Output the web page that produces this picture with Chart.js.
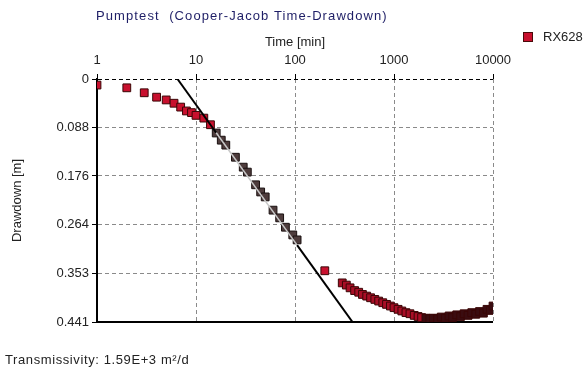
<!DOCTYPE html>
<html>
<head>
<meta charset="utf-8">
<script src="https://cdn.jsdelivr.net/npm/chart.js@4.4.1/dist/chart.umd.min.js"></script>
<style>
    body { margin: 0; background: #fff; font-family: "Liberation Sans", Arial, sans-serif; }
    #wrap { position: relative; width: 588px; height: 373px; overflow: hidden; }
    #chart { position: absolute; left: 0; top: 0; }
    .txt { position: absolute; white-space: nowrap; font-size: 13px; color: #222; line-height: 16px; }
    #title { left: 96px; top: 8px; color: #1e1e66; letter-spacing: 1.1px; }
    #legend { left: 523px; top: 29px; }
    #legend .box { display: inline-block; width: 8px; height: 8px; background: #c8102e; border: 1px solid #4a0a0a; margin-right: 10px; vertical-align: -1px; }
    #transm { left: 5px; top: 352px; letter-spacing: 0.6px; }
</style>
</head>
<body>
<div id="wrap">
    <canvas id="chart" width="588" height="373"></canvas>
    <div class="txt" id="title">Pumptest&nbsp; (Cooper-Jacob Time-Drawdown)</div>
    <div class="txt" id="legend"><span class="box"></span>RX628</div>
    <div class="txt" id="transm">Transmissivity: 1.59E+3 m²/d</div>
</div>
<script>
// measured points (time in minutes, drawdown in metres)
const timeMin = [
    1, 2, 3, 4, 5, 6, 7, 8, 9, 10,
    12, 14, 16, 18, 20, 25, 30, 33, 40, 45,
    50, 60, 70, 80, 95, 105, 200,
    300, 330, 360, 400, 440, 480, 530, 580, 640, 700,
    770, 840, 920, 1000, 1100, 1200, 1320, 1450, 1600, 1750,
    1900, 2100, 2300, 2500, 2750, 3000, 3300, 3600, 3900, 4300,
    4700, 5100, 5600, 6100, 6700, 7300, 8000, 8700, 9400, 10000
];
const drawdown = [
    0.011, 0.016, 0.025, 0.033, 0.038, 0.044, 0.051, 0.058, 0.061, 0.066,
    0.071, 0.083, 0.098, 0.111, 0.120, 0.142, 0.160, 0.169, 0.192, 0.205,
    0.214, 0.238, 0.252, 0.269, 0.283, 0.292, 0.348,
    0.370, 0.374, 0.379, 0.384, 0.387, 0.391, 0.394, 0.397, 0.400, 0.403,
    0.406, 0.409, 0.412, 0.415, 0.418, 0.421, 0.424, 0.426, 0.429, 0.431,
    0.433, 0.434, 0.435, 0.434, 0.435, 0.432, 0.434, 0.430, 0.433, 0.428,
    0.431, 0.426, 0.429, 0.424, 0.427, 0.422, 0.425, 0.418, 0.420, 0.412
];

// time window used for the straight line fit
const fitWindow = [16, 105];

// Cooper-Jacob straight line (ends of the line)
const fitLineTime = [6.5, 381];
const fitLineDrawdown = [0, 0.441];

const xTicks = [1, 10, 100, 1000, 10000];
const yTicks = [0, 0.088, 0.176, 0.264, 0.353, 0.441];
const yTickLabels = ['0', '0.088', '0.176', '0.264', '0.353', '0.441'];

const fontFam = '"Liberation Sans", Arial, sans-serif';

// drawdown on the fitted line at time t
function fitAt(t) {
    const a = Math.log10(fitLineTime[0]), b = Math.log10(fitLineTime[1]);
    const f = (Math.log10(t) - a) / (b - a);
    return fitLineDrawdown[0] + f * (fitLineDrawdown[1] - fitLineDrawdown[0]);
}

const points = timeMin.map((t, i) => ({ x: t, y: drawdown[i] }));
const inFit = t => t >= fitWindow[0] && t <= fitWindow[1];

// point colours: fitted points grey-brown, late dense ones almost black
function pointFill(t) {
    if (inFit(t)) return '#4e3c3c';
    if (t >= 2000) return '#3a0c10';
    if (t >= 300) return '#a80e26';
    return '#c8102e';
}

const linePts = [
    { x: fitLineTime[0], y: fitLineDrawdown[0] },
    { x: fitWindow[0], y: fitAt(fitWindow[0]) },
    { x: fitWindow[1], y: fitAt(fitWindow[1]) },
    { x: fitLineTime[1], y: fitLineDrawdown[1] }
];

// solid bottom edge of the plot
const frame = {
    id: 'frame',
    beforeDatasetsDraw(chart) {
        const { ctx, chartArea: a } = chart;
        ctx.save();
        ctx.strokeStyle = '#000';
        ctx.lineWidth = 2;
        ctx.beginPath();
        ctx.moveTo(a.left, a.bottom);
        ctx.lineTo(a.right, a.bottom);
        ctx.stroke();
        ctx.restore();
    }
};

new Chart(document.getElementById('chart').getContext('2d'), {
    type: 'scatter',
    data: {
        datasets: [{
            label: 'fit',
            type: 'line',
            data: linePts,
            borderColor: '#000',
            borderWidth: 2,
            pointRadius: 0,
            order: 0,
            segment: {
                borderColor: c => c.p0DataIndex === 1 ? '#c8c8c8' : '#000',
                borderWidth: c => c.p0DataIndex === 1 ? 1.5 : 2
            }
        }, {
            label: 'RX628',
            data: points,
            pointStyle: 'rect',
            pointRadius: 5.5,
            pointHoverRadius: 5.5,
            borderWidth: 1,
            backgroundColor: c => pointFill(timeMin[c.dataIndex]),
            borderColor: c => inFit(timeMin[c.dataIndex]) ? '#1a1010' : '#3a0606',
            order: 1
        }]
    },
    options: {
        responsive: false,
        animation: false,
        events: [],
        layout: { padding: { left: 0, right: 95, top: 0, bottom: 51 } },
        plugins: {
            legend: { display: false },
            tooltip: { enabled: false }
        },
        scales: {
            x: {
                type: 'logarithmic',
                position: 'top',
                min: 1,
                max: 10000,
                afterBuildTicks: s => { s.ticks = xTicks.map(v => ({ value: v })); },
                afterFit: s => { s.height = 79; },
                ticks: {
                    autoSkip: false,
                    maxRotation: 0,
                    padding: 6,
                    color: '#222',
                    font: { family: fontFam, size: 13 },
                    callback: v => String(v)
                },
                grid: {
                    color: c => c.tick && c.tick.value === 1 ? 'rgba(0,0,0,0)' : '#8a8a8a',
                    lineWidth: 1,
                    drawTicks: true,
                    tickLength: 5,
                    tickColor: '#000'
                },
                border: { display: false, dash: [4, 3] },
                title: {
                    display: true,
                    text: 'Time [min]',
                    color: '#222',
                    font: { family: fontFam, size: 13 },
                    padding: { top: 35, bottom: 0 }
                }
            },
            y: {
                type: 'linear',
                reverse: true,
                min: 0,
                max: 0.441,
                afterBuildTicks: s => { s.ticks = yTicks.map(v => ({ value: v })); },
                afterFit: s => { s.width = 97; },
                ticks: {
                    autoSkip: false,
                    padding: 3,
                    color: '#222',
                    font: { family: fontFam, size: 13 },
                    callback: (v, i) => yTickLabels[i]
                },
                grid: {
                    color: c => {
                        if (!c.tick) return '#8a8a8a';
                        if (c.tick.value === 0) return '#000';
                        if (c.tick.value === 0.441) return 'rgba(0,0,0,0)';
                        return '#8a8a8a';
                    },
                    lineWidth: 1,
                    drawTicks: true,
                    tickLength: 5,
                    tickColor: '#000'
                },
                border: { display: true, color: '#000', width: 2, dash: [4, 3] },
                title: {
                    display: true,
                    text: 'Drawdown [m]',
                    color: '#222',
                    font: { family: fontFam, size: 13 },
                    padding: { top: 10, bottom: 0 }
                }
            }
        }
    },
    plugins: [frame]
});
</script>
</body>
</html>
